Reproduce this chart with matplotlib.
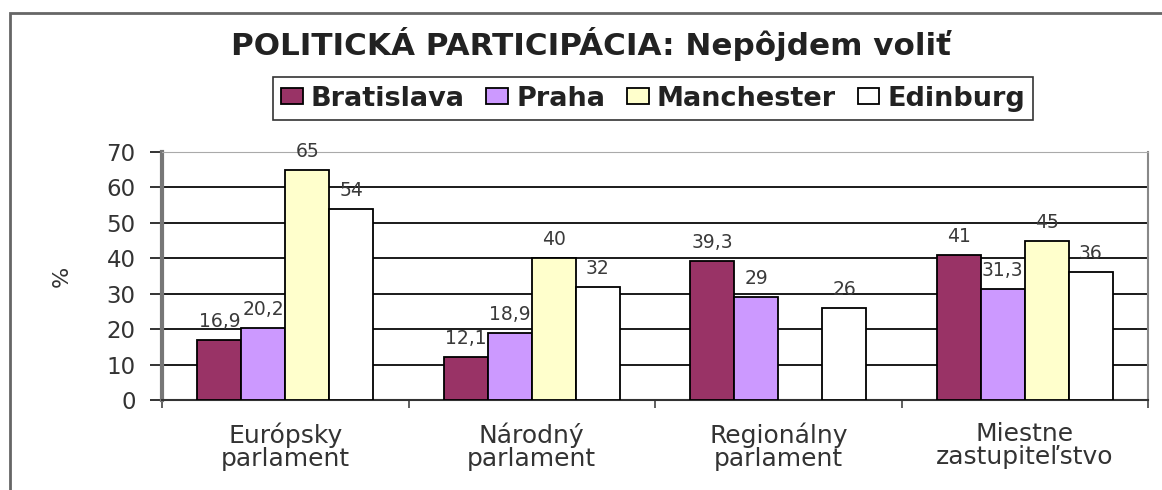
import numpy as np
import matplotlib
matplotlib.use('Agg')
import matplotlib.pyplot as plt
from matplotlib.patches import Rectangle

plt.rcParams['font.family'] = ['DejaVu Sans']

categories = ['Európsky\nparlament', 'Národný\nparlament', 'Regionálny\nparlament', 'Miestne\nzastupiteľstvo']
cities = ['Bratislava', 'Praha', 'Manchester', 'Edinburg']
bratislava = [16.9, 12.1, 39.3, 41]
praha = [20.2, 18.9, 29, 31.3]
manchester = [65, 40, np.nan, 45]
edinburg = [54, 32, 26, 36]
colors = ['#993366', '#CC99FF', '#FFFFCC', '#FFFFFF']
title = 'POLITICKÁ PARTICIPÁCIA: Nepôjdem voliť'

series = [bratislava, praha, manchester, edinburg]

W, H = 1162, 490
fig = plt.figure(figsize=(W / 100, H / 100), dpi=100)
fig.patch.set_facecolor('white')
ax = fig.add_axes([162 / W, 1 - 400 / H, (1148 - 162) / W, (400 - 152) / H])

x = np.arange(len(categories))
width = 0.178
for i, (name, vals) in enumerate(zip(cities, series)):
    pos = x + (i - 1.5) * width
    ax.bar(pos, vals, width, color=colors[i], edgecolor='black', linewidth=1.3, label=name, zorder=3)
    for xp, v in zip(pos, vals):
        if np.isnan(v):
            continue
        txt = ('%g' % v).replace('.', ',')
        ax.annotate(txt, (xp, v), xytext=(0, 6.5), textcoords='offset points',
                    ha='center', va='bottom', fontsize=13.5, color='#3a3a3a', zorder=4)

ax.set_xlim(-0.5, len(categories) - 0.5)
ax.set_ylim(0, 70)
ax.set_yticks(range(0, 71, 10))
ax.yaxis.grid(True, color='#1a1a1a', linewidth=1.4, zorder=0)
ax.set_xticks(x)
ax.set_xticklabels(categories, fontsize=18, color='#333333', linespacing=0.95)
ax.set_xticks(np.arange(-0.5, len(categories)), minor=True)
ax.tick_params(axis='x', which='major', length=0, pad=16)
ax.tick_params(axis='x', which='minor', length=6, width=1.2, color='#444444')
ax.tick_params(axis='y', labelsize=16.5, length=9, width=1.4, pad=10, labelcolor='#333333', color='#333333')
ax.spines['top'].set_color('#aaaaaa')
ax.spines['right'].set_color('#888888')
ax.spines['right'].set_linewidth(1.5)
ax.spines['left'].set_color('#777777')
ax.spines['left'].set_linewidth(3)
ax.spines['bottom'].set_color('#333333')
ax.spines['bottom'].set_linewidth(1.5)
ax.set_ylabel('%', fontsize=16, color='#333333', rotation=90, va='center', ha='center')
ax.yaxis.set_label_coords((62 - 162) / (1148 - 162), 0.5)

renderer = fig.canvas.get_renderer()

# title, scaled to roughly the width it has in the original
t = fig.text(591 / W, 1 - 44 / H, title, ha='center', va='center',
             fontsize=19, fontweight='bold', color='#222222')
tw = t.get_window_extent(renderer).width
t.set_fontsize(19 * 772 * 0.93 / tw)

# legend, scaled to its box width in the original
leg_kw = dict(loc='center', bbox_to_anchor=(653 / W, 1 - 98.5 / H), ncol=4, frameon=True,
              fancybox=False, edgecolor='black', handlelength=0.8, handleheight=0.55,
              handletextpad=0.3, columnspacing=0.8, borderpad=0.3, borderaxespad=0)
leg_size = 15
for _ in range(3):
    leg = fig.legend(prop={'weight': 'bold', 'size': leg_size}, **leg_kw)
    lw = leg.get_window_extent(renderer).width
    leg.remove()
    leg_size = leg_size * 760 / lw
leg = fig.legend(prop={'weight': 'bold', 'size': leg_size}, **leg_kw)
leg.get_frame().set_linewidth(1.2)
for txt in leg.get_texts():
    txt.set_color('#222222')

fig.patches.append(Rectangle((10 / W, -0.1), 1.2, 1.1 - 13 / H, transform=fig.transFigure,
                             fill=False, edgecolor='#666666', linewidth=2))

fig.savefig('out.png', dpi=100)
